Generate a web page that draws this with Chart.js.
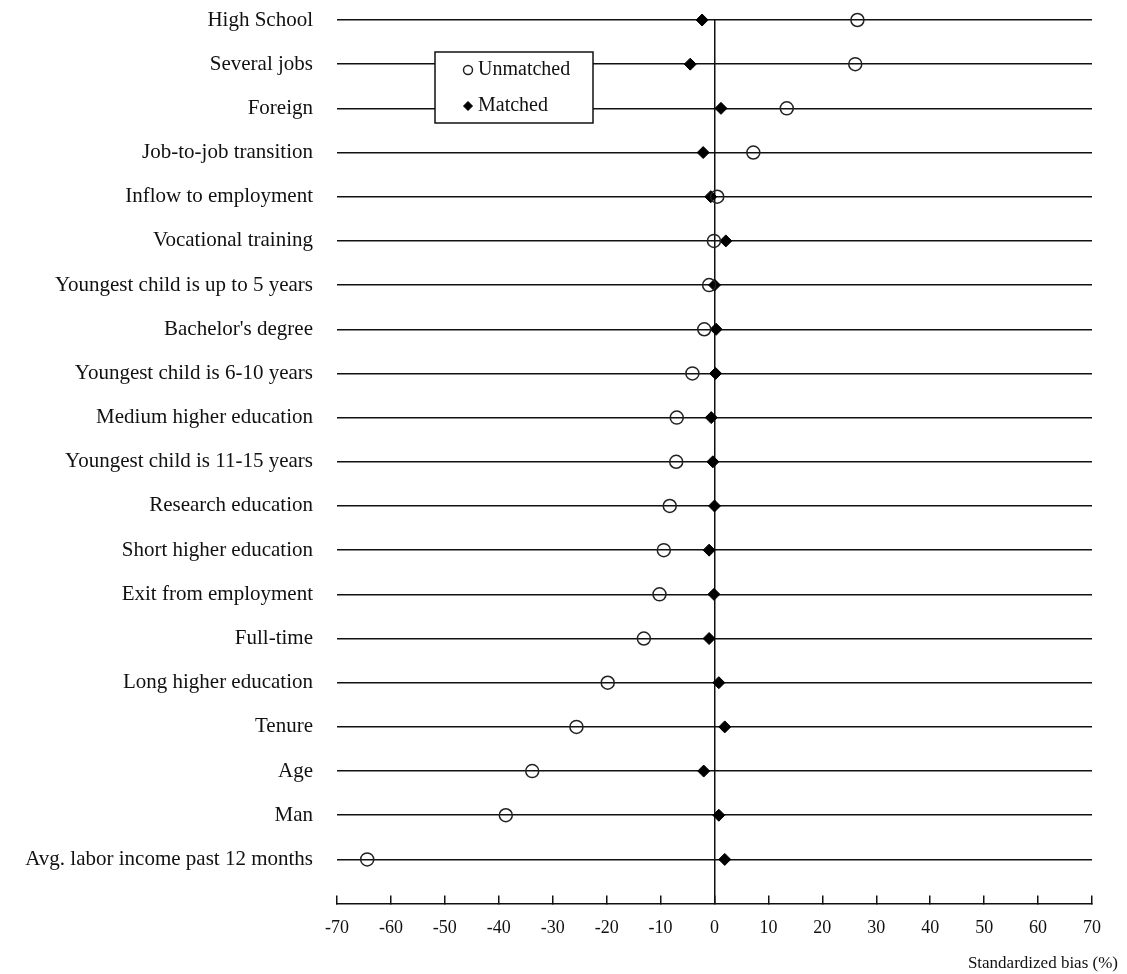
<!DOCTYPE html>
<html>
<head>
<meta charset="utf-8">
<script src="https://cdn.jsdelivr.net/npm/chart.js@4.4.1/dist/chart.umd.min.js"></script>
<style>
  html, body { margin: 0; padding: 0; background: #fff; }
</style>
</head>
<body>
<canvas id="c" width="1127" height="974"></canvas>
<script>
const covariates = [
  'High School', 'Several jobs', 'Foreign', 'Job-to-job transition',
  'Inflow to employment', 'Vocational training', 'Youngest child is up to 5 years',
  "Bachelor's degree", 'Youngest child is 6-10 years', 'Medium higher education',
  'Youngest child is 11-15 years', 'Research education', 'Short higher education',
  'Exit from employment', 'Full-time', 'Long higher education', 'Tenure', 'Age',
  'Man', 'Avg. labor income past 12 months',
];
const unmatched = [26.5, 26.1, 13.4, 7.2, 0.5, -0.1, -1.0, -1.9, -4.1, -7.0,
  -7.1, -8.3, -9.4, -10.2, -13.1, -19.8, -25.6, -33.8, -38.7, -64.4];
const matched = [-2.3, -4.5, 1.2, -2.1, -0.7, 2.1, 0.0, 0.3, 0.2, -0.6,
  -0.3, 0.0, -1.0, -0.1, -1.0, 0.8, 1.9, -2.0, 0.8, 1.9];
const xTicks = [-70, -60, -50, -40, -30, -20, -10, 0, 10, 20, 30, 40, 50, 60, 70];

const SERIF = '"Liberation Serif", "Times New Roman", serif';
const INK = '#111';

// boxed legend sitting inside the plot, over the grid lines
const boxLegend = {
  id: 'boxLegend',
  afterDatasetsDraw(chart) {
    const { ctx, chartArea } = chart;
    const x = chartArea.left + 98, y = chartArea.top + 32, w = 158, h = 71;
    ctx.save();
    ctx.fillStyle = '#fff';
    ctx.fillRect(x, y, w, h);
    ctx.lineWidth = 1.5;
    ctx.strokeStyle = INK;
    ctx.strokeRect(x, y, w, h);
    ctx.font = '20px ' + SERIF;
    ctx.textBaseline = 'middle';
    chart.data.datasets.forEach((ds, i) => {
      const cy = y + 18 + i * 36;
      ctx.fillStyle = ds.backgroundColor;
      ctx.strokeStyle = ds.borderColor;
      ctx.lineWidth = ds.borderWidth;
      Chart.helpers.drawPoint(ctx, {
        pointStyle: ds.pointStyle, radius: 4.5, borderWidth: ds.borderWidth, rotation: 0,
      }, x + 33, cy);
      ctx.fillStyle = INK;
      ctx.fillText(ds.label, x + 43, cy);
    });
    ctx.restore();
  },
};

new Chart(document.getElementById('c'), {
  type: 'scatter',
  data: {
    datasets: [
      {
        label: 'Unmatched',
        data: unmatched.map((v, i) => ({ x: v, y: i })),
        pointStyle: 'circle',
        pointRadius: 6.5,
        borderWidth: 1.5,
        borderColor: '#222',
        backgroundColor: 'rgba(0,0,0,0)',
        clip: false,
      },
      {
        label: 'Matched',
        data: matched.map((v, i) => ({ x: v, y: i })),
        pointStyle: 'rectRot',
        pointRadius: 6,
        borderWidth: 1,
        borderColor: '#000',
        backgroundColor: '#000',
        clip: false,
      },
    ],
  },
  options: {
    responsive: false,
    animation: false,
    layout: { padding: { top: 20, right: 9, bottom: 0, left: 0 } },
    plugins: {
      legend: { display: false },
      tooltip: { enabled: false },
      title: {
        display: true,
        text: 'Standardized bias (%)',
        position: 'bottom',
        align: 'end',
        color: INK,
        font: { family: SERIF, size: 17, weight: 'normal' },
        padding: { top: 0, bottom: 0 },
      },
    },
    scales: {
      x: {
        type: 'linear',
        min: -70,
        max: 70,
        afterBuildTicks: (s) => { s.ticks = xTicks.map((v) => ({ value: v })); },
        afterFit: (s) => { s.height = 50; },
        ticks: { color: INK, font: { family: SERIF, size: 18 }, padding: 22 },
        grid: {
          color: (c) => (c.tick && c.tick.value === 0 ? INK : 'rgba(0,0,0,0)'),
          tickColor: INK,
          lineWidth: 1.5,
          tickLength: -8,
        },
        border: { color: INK, width: 1.5 },
      },
      y: {
        type: 'linear',
        reverse: true,
        min: 0,
        max: 20,
        afterFit: (s) => { s.width = 337; s.paddingTop = 0; s.paddingBottom = 0; },
        ticks: {
          stepSize: 1,
          autoSkip: false,
          color: INK,
          padding: 24,
          font: { family: SERIF, size: 21 },
          callback: (v) => covariates[v] ?? '',
        },
        grid: {
          color: (c) => (c.tick && c.tick.value < covariates.length ? INK : 'rgba(0,0,0,0)'),
          lineWidth: 1.5,
          drawTicks: false,
        },
        border: { display: false },
      },
      yRight: {
        type: 'linear',
        position: 'right',
        grid: { display: false },
        border: { display: false },
        ticks: { display: false },
        afterFit: (s) => { s.width = 26; s.paddingTop = 0; s.paddingBottom = 0; },
      },
    },
  },
  plugins: [boxLegend],
});
</script>
</body>
</html>
